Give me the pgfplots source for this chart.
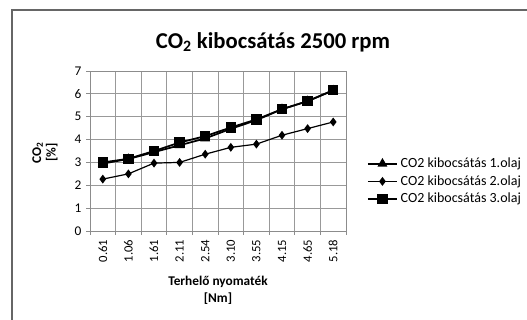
\documentclass[border=0pt]{standalone}
\usepackage{fontspec}
\setmainfont{Carlito}
\usepackage{pgfplots}
\pgfplotsset{compat=1.18}
\begin{document}
\begin{tikzpicture}
\useasboundingbox (0,0) rectangle (395.25pt,240pt);
\draw[draw=black!60, line width=0.8pt] (9pt,-10pt) -- (9pt,232.5pt) -- (410pt,232.5pt);
\node[anchor=center] at (204.75pt,208.5pt) {\fontsize{17}{20}\selectfont\bfseries CO\textsubscript{2} kibocsátás 2500 rpm};
\begin{axis}[
  at={(67.5pt,66.75pt)}, anchor=south west,
  scale only axis, width=192pt, height=120pt,
  xmin=-0.5, xmax=9.5, ymin=0, ymax=7,
  xtick={0,...,9},
  xticklabels={0.61,1.06,1.61,2.11,2.54,3.10,3.55,4.15,4.65,5.18},
  minor xtick={-0.5,0.5,...,9.5},
  major x tick style={draw=none},
  xticklabel style={rotate=90, anchor=east, font=\fontsize{9.5}{10}\selectfont},
  ytick={0,...,7},
  yticklabel style={font=\fontsize{10}{10}\selectfont},
  /pgf/number format/assume math mode=true,
  tick align=outside, tick pos=left,
  major tick length=3pt, minor tick length=3pt,
  every tick/.style={black!45, line width=0.6pt},
  xminorgrids=true, ymajorgrids=true, xmajorgrids=false,
  grid style={black!40, line width=0.6pt},
  minor grid style={black!40, line width=0.6pt},
  axis line style={black!45, line width=0.6pt},
  xlabel={Terhelő nyomaték\\{[Nm]}},
  xlabel style={align=center, font=\fontsize{10}{13}\selectfont\bfseries, at={(axis description cs:0.5,-0.37)}, anchor=center},
  ylabel={CO\textsubscript{2}\\{[\%]}},
  ylabel style={align=center, font=\fontsize{10}{11}\selectfont\bfseries, at={(axis description cs:-0.176,0.49)}, anchor=center},
  legend style={at={(1.065,0.31)}, anchor=west, draw=none, fill=none,
    font=\fontsize{10.5}{12}\selectfont, row sep=0.5pt,
    /tikz/every even column/.append style={column sep=2pt}},
  legend cell align=left,
  legend image code/.code={\draw[#1] (0pt,0pt) -- (22pt,0pt); \draw[#1, mark repeat=1] plot coordinates {(11pt,0pt)};},
]
\addplot[black, line width=1.3pt, mark=triangle*, mark size=3pt] coordinates {
(0,2.95) (1,3.15) (2,3.45) (3,3.75) (4,4.05) (5,4.47) (6,4.85) (7,5.33) (8,5.68) (9,6.15)};
\addlegendentry{CO2 kibocsátás 1.olaj}
\addplot[black, line width=0.9pt, mark=diamond*, mark size=2.6pt] coordinates {
(0,2.27) (1,2.5) (2,2.97) (3,3.0) (4,3.36) (5,3.66) (6,3.8) (7,4.19) (8,4.48) (9,4.77)};
\addlegendentry{CO2 kibocsátás 2.olaj}
\addplot[black, line width=1.3pt, mark=square*, mark size=3.3pt, mark options={solid}] coordinates {
(0,3.0) (1,3.16) (2,3.5) (3,3.87) (4,4.15) (5,4.53) (6,4.88) (7,5.33) (8,5.68) (9,6.16)};
\addlegendentry{CO2 kibocsátás 3.olaj}
\end{axis}
\end{tikzpicture}
\end{document}
